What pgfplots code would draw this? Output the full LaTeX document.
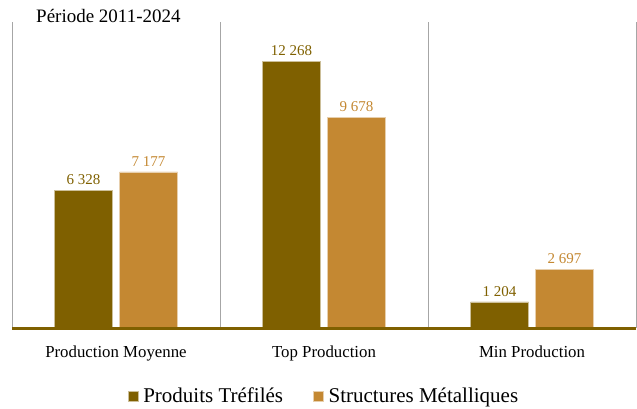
\documentclass[border=0pt]{standalone}
\usepackage{pgfplots}
\pgfplotsset{compat=1.18}
\usepackage{fontspec}
\setmainfont{Liberation Serif}
\definecolor{cA}{HTML}{7F6000}
\definecolor{cB}{HTML}{C48832}
\begin{document}
\begin{tikzpicture}[x=1pt,y=1pt]
\path[use as bounding box] (0,0) rectangle (637,408);
\begin{axis}[
  at={(12pt,80pt)}, anchor=south west,
  scale only axis, width=624pt, height=306pt,
  xmin=-0.5, xmax=2.5, ymin=0, ymax=14063,
  axis line style={draw=none},
  ytick=\empty,
  xtick={0,1,2},
  xticklabels={Production Moyenne, Top Production, Min Production},
  major tick length=0pt,
  minor xtick={-0.5,0.5,1.5,2.5},
  xminorgrids, minor grid style={gray!70, line width=0.8pt},
  minor tick length=0pt,
  xticklabel style={font=\fontsize{16.8}{18}\selectfont, yshift=-14pt},
  ybar, bar width=58pt,
  nodes near coords,
  /pgf/number format/.cd, fixed, precision=0, 1000 sep={\ }, assume math mode=true,
  /pgfplots/.cd,
  every node near coord/.append style={font=\fontsize{15}{17}\selectfont, yshift=2pt},
  legend columns=2,
  legend style={draw=none, at={(0.5,-0.222)}, anchor=center,
    font=\fontsize{21}{23}\selectfont,
    /tikz/every odd column/.append style={column sep=3pt},
    /tikz/every even column/.append style={column sep=28pt}},
  legend image code/.code={\fill[#1] (0pt,-5pt) rectangle (10pt,5pt);},
  clip=false,
]
\addplot[fill=cA, draw=cA!40!white, line width=0.5pt, bar shift=-32.5pt,
  every node near coord/.append style={text=cA}]
  coordinates {(0,6328) (1,12268) (2,1204)};
\addlegendentry{Produits Tréfilés}
\addplot[fill=cB, draw=cB!40!white, line width=0.5pt, bar shift=32.5pt,
  every node near coord/.append style={text=cB}]
  coordinates {(0,7177) (1,9678) (2,2697)};
\addlegendentry{Structures Métalliques}
\draw[cA, line width=3pt] (axis cs:-0.5,0) -- (axis cs:2.5,0);
\end{axis}
\node[anchor=base west, font=\fontsize{19}{21}\selectfont, inner sep=0pt] at (36pt,385pt) {Période 2011-2024};
\end{tikzpicture}
\end{document}
